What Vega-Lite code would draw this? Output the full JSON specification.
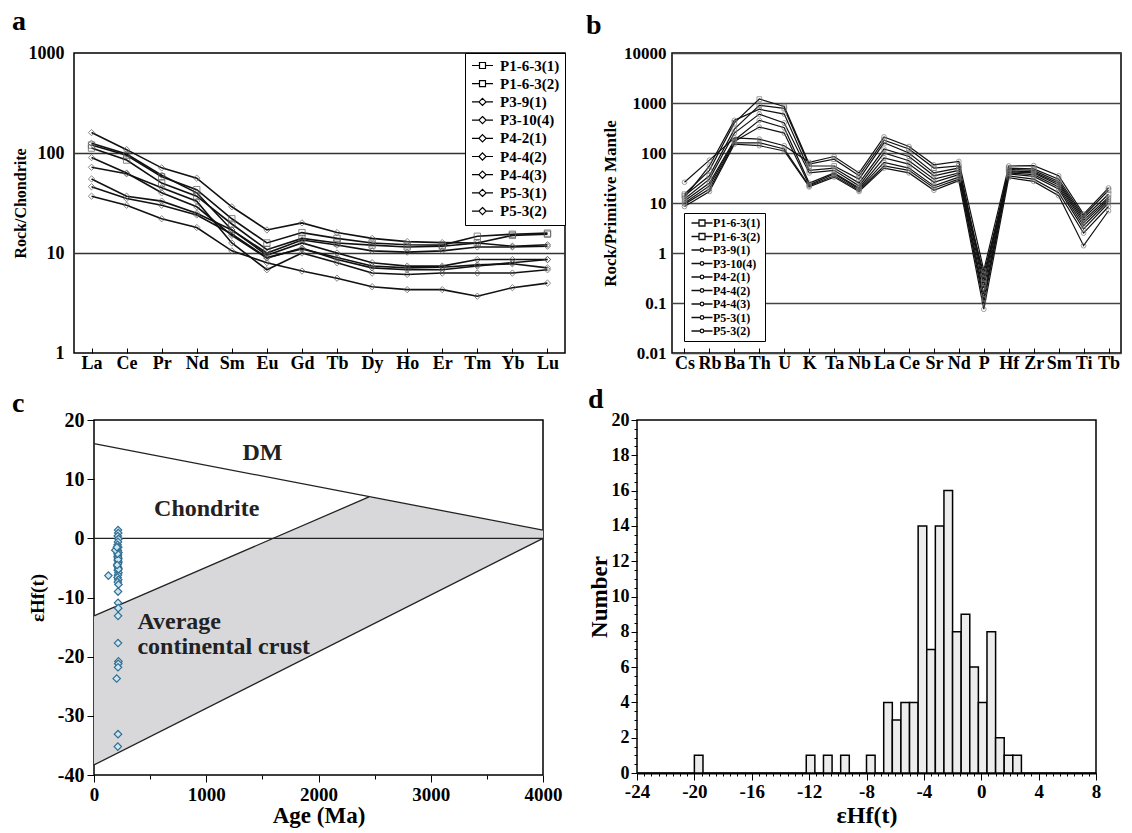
{
"$schema":"https://vega.github.io/schema/vega-lite/v6.json",
"background":"white",
"padding":{"left":10,"top":7,"right":2,"bottom":2},
"config":{
 "font":"Liberation Serif",
 "view":{"stroke":"black","strokeWidth":1.5},
 "axis":{"labelFont":"Liberation Serif","labelFontWeight":"bold","labelColor":"black","titleFont":"Liberation Serif","titleFontWeight":"bold","titleColor":"black","domain":false,"tickColor":"black","grid":false,"labelFlush":false,"labelOverlap":false},
 "title":{"font":"Liberation Serif","fontWeight":"bold","fontSize":28,"color":"black","anchor":"start","frame":"group","baseline":"alphabetic"},
 "legend":{"labelFont":"Liberation Serif","labelFontWeight":"bold","labelColor":"black"}
},
"datasets":{
"ree":[
{"s":"P1-6-3(1)","el":"La","v":120},{"s":"P1-6-3(1)","el":"Ce","v":95},{"s":"P1-6-3(1)","el":"Pr","v":58},{"s":"P1-6-3(1)","el":"Nd","v":43},{"s":"P1-6-3(1)","el":"Sm","v":22},{"s":"P1-6-3(1)","el":"Eu","v":12.6},{"s":"P1-6-3(1)","el":"Gd","v":16},{"s":"P1-6-3(1)","el":"Tb","v":14},{"s":"P1-6-3(1)","el":"Dy","v":12.6},{"s":"P1-6-3(1)","el":"Ho","v":12.1},{"s":"P1-6-3(1)","el":"Er","v":12},{"s":"P1-6-3(1)","el":"Tm","v":14.7},{"s":"P1-6-3(1)","el":"Yb","v":15.4},{"s":"P1-6-3(1)","el":"Lu","v":15.8},
{"s":"P1-6-3(2)","el":"La","v":112},{"s":"P1-6-3(2)","el":"Ce","v":85},{"s":"P1-6-3(2)","el":"Pr","v":50},{"s":"P1-6-3(2)","el":"Nd","v":37},{"s":"P1-6-3(2)","el":"Sm","v":19.5},{"s":"P1-6-3(2)","el":"Eu","v":10.8},{"s":"P1-6-3(2)","el":"Gd","v":14},{"s":"P1-6-3(2)","el":"Tb","v":12.6},{"s":"P1-6-3(2)","el":"Dy","v":12},{"s":"P1-6-3(2)","el":"Ho","v":11.5},{"s":"P1-6-3(2)","el":"Er","v":11.7},{"s":"P1-6-3(2)","el":"Tm","v":12.6},{"s":"P1-6-3(2)","el":"Yb","v":15},{"s":"P1-6-3(2)","el":"Lu","v":15.4},
{"s":"P3-9(1)","el":"La","v":160},{"s":"P3-9(1)","el":"Ce","v":108},{"s":"P3-9(1)","el":"Pr","v":71},{"s":"P3-9(1)","el":"Nd","v":56},{"s":"P3-9(1)","el":"Sm","v":29},{"s":"P3-9(1)","el":"Eu","v":17},{"s":"P3-9(1)","el":"Gd","v":20},{"s":"P3-9(1)","el":"Tb","v":16},{"s":"P3-9(1)","el":"Dy","v":14},{"s":"P3-9(1)","el":"Ho","v":13},{"s":"P3-9(1)","el":"Er","v":12.7},{"s":"P3-9(1)","el":"Tm","v":12.6},{"s":"P3-9(1)","el":"Yb","v":11.7},{"s":"P3-9(1)","el":"Lu","v":12.1},
{"s":"P3-10(4)","el":"La","v":125},{"s":"P3-10(4)","el":"Ce","v":98},{"s":"P3-10(4)","el":"Pr","v":60},{"s":"P3-10(4)","el":"Nd","v":40},{"s":"P3-10(4)","el":"Sm","v":17},{"s":"P3-10(4)","el":"Eu","v":9.5},{"s":"P3-10(4)","el":"Gd","v":12.6},{"s":"P3-10(4)","el":"Tb","v":10},{"s":"P3-10(4)","el":"Dy","v":8},{"s":"P3-10(4)","el":"Ho","v":7.4},{"s":"P3-10(4)","el":"Er","v":7.4},{"s":"P3-10(4)","el":"Tm","v":8.6},{"s":"P3-10(4)","el":"Yb","v":8.6},{"s":"P3-10(4)","el":"Lu","v":8.6},
{"s":"P4-2(1)","el":"La","v":90},{"s":"P4-2(1)","el":"Ce","v":63},{"s":"P4-2(1)","el":"Pr","v":40},{"s":"P4-2(1)","el":"Nd","v":29},{"s":"P4-2(1)","el":"Sm","v":15},{"s":"P4-2(1)","el":"Eu","v":8.9},{"s":"P4-2(1)","el":"Gd","v":11.2},{"s":"P4-2(1)","el":"Tb","v":8.6},{"s":"P4-2(1)","el":"Dy","v":7.1},{"s":"P4-2(1)","el":"Ho","v":6.8},{"s":"P4-2(1)","el":"Er","v":6.8},{"s":"P4-2(1)","el":"Tm","v":7.4},{"s":"P4-2(1)","el":"Yb","v":8},{"s":"P4-2(1)","el":"Lu","v":8.6},
{"s":"P4-4(2)","el":"La","v":72},{"s":"P4-4(2)","el":"Ce","v":62},{"s":"P4-4(2)","el":"Pr","v":45},{"s":"P4-4(2)","el":"Nd","v":33},{"s":"P4-4(2)","el":"Sm","v":12.6},{"s":"P4-4(2)","el":"Eu","v":6.8},{"s":"P4-4(2)","el":"Gd","v":10},{"s":"P4-4(2)","el":"Tb","v":8},{"s":"P4-4(2)","el":"Dy","v":6.3},{"s":"P4-4(2)","el":"Ho","v":6.1},{"s":"P4-4(2)","el":"Er","v":6.3},{"s":"P4-4(2)","el":"Tm","v":6.3},{"s":"P4-4(2)","el":"Yb","v":6.3},{"s":"P4-4(2)","el":"Lu","v":6.8},
{"s":"P4-4(3)","el":"La","v":55},{"s":"P4-4(3)","el":"Ce","v":37},{"s":"P4-4(3)","el":"Pr","v":33},{"s":"P4-4(3)","el":"Nd","v":25},{"s":"P4-4(3)","el":"Sm","v":17},{"s":"P4-4(3)","el":"Eu","v":10},{"s":"P4-4(3)","el":"Gd","v":13.5},{"s":"P4-4(3)","el":"Tb","v":12},{"s":"P4-4(3)","el":"Dy","v":10.5},{"s":"P4-4(3)","el":"Ho","v":10.2},{"s":"P4-4(3)","el":"Er","v":10.5},{"s":"P4-4(3)","el":"Tm","v":11.5},{"s":"P4-4(3)","el":"Yb","v":11.5},{"s":"P4-4(3)","el":"Lu","v":11.7},
{"s":"P5-3(1)","el":"La","v":46},{"s":"P5-3(1)","el":"Ce","v":35},{"s":"P5-3(1)","el":"Pr","v":30},{"s":"P5-3(1)","el":"Nd","v":24},{"s":"P5-3(1)","el":"Sm","v":15.5},{"s":"P5-3(1)","el":"Eu","v":9},{"s":"P5-3(1)","el":"Gd","v":11},{"s":"P5-3(1)","el":"Tb","v":9},{"s":"P5-3(1)","el":"Dy","v":7.4},{"s":"P5-3(1)","el":"Ho","v":7.1},{"s":"P5-3(1)","el":"Er","v":7.2},{"s":"P5-3(1)","el":"Tm","v":7.6},{"s":"P5-3(1)","el":"Yb","v":7.8},{"s":"P5-3(1)","el":"Lu","v":7.1},
{"s":"P5-3(2)","el":"La","v":37},{"s":"P5-3(2)","el":"Ce","v":30},{"s":"P5-3(2)","el":"Pr","v":22},{"s":"P5-3(2)","el":"Nd","v":18},{"s":"P5-3(2)","el":"Sm","v":10.5},{"s":"P5-3(2)","el":"Eu","v":8},{"s":"P5-3(2)","el":"Gd","v":6.6},{"s":"P5-3(2)","el":"Tb","v":5.6},{"s":"P5-3(2)","el":"Dy","v":4.6},{"s":"P5-3(2)","el":"Ho","v":4.3},{"s":"P5-3(2)","el":"Er","v":4.3},{"s":"P5-3(2)","el":"Tm","v":3.7},{"s":"P5-3(2)","el":"Yb","v":4.5},{"s":"P5-3(2)","el":"Lu","v":5}
],
"spider":[
{"s":"P1-6-3(1)","el":"Cs","v":15},{"s":"P1-6-3(1)","el":"Rb","v":45},{"s":"P1-6-3(1)","el":"Ba","v":400},{"s":"P1-6-3(1)","el":"Th","v":1200},{"s":"P1-6-3(1)","el":"U","v":850},{"s":"P1-6-3(1)","el":"K","v":60},{"s":"P1-6-3(1)","el":"Ta","v":75},{"s":"P1-6-3(1)","el":"Nb","v":35},{"s":"P1-6-3(1)","el":"La","v":180},{"s":"P1-6-3(1)","el":"Ce","v":120},{"s":"P1-6-3(1)","el":"Sr","v":50},{"s":"P1-6-3(1)","el":"Nd","v":55},{"s":"P1-6-3(1)","el":"P","v":0.3},{"s":"P1-6-3(1)","el":"Hf","v":50},{"s":"P1-6-3(1)","el":"Zr","v":48},{"s":"P1-6-3(1)","el":"Sm","v":30},{"s":"P1-6-3(1)","el":"Ti","v":5.5},{"s":"P1-6-3(1)","el":"Tb","v":18},
{"s":"P1-6-3(2)","el":"Cs","v":14},{"s":"P1-6-3(2)","el":"Rb","v":35},{"s":"P1-6-3(2)","el":"Ba","v":300},{"s":"P1-6-3(2)","el":"Th","v":900},{"s":"P1-6-3(2)","el":"U","v":780},{"s":"P1-6-3(2)","el":"K","v":55},{"s":"P1-6-3(2)","el":"Ta","v":55},{"s":"P1-6-3(2)","el":"Nb","v":30},{"s":"P1-6-3(2)","el":"La","v":160},{"s":"P1-6-3(2)","el":"Ce","v":100},{"s":"P1-6-3(2)","el":"Sr","v":40},{"s":"P1-6-3(2)","el":"Nd","v":50},{"s":"P1-6-3(2)","el":"P","v":0.25},{"s":"P1-6-3(2)","el":"Hf","v":47},{"s":"P1-6-3(2)","el":"Zr","v":45},{"s":"P1-6-3(2)","el":"Sm","v":27},{"s":"P1-6-3(2)","el":"Ti","v":5},{"s":"P1-6-3(2)","el":"Tb","v":15},
{"s":"P3-9(1)","el":"Cs","v":26},{"s":"P3-9(1)","el":"Rb","v":72},{"s":"P3-9(1)","el":"Ba","v":200},{"s":"P3-9(1)","el":"Th","v":190},{"s":"P3-9(1)","el":"U","v":140},{"s":"P3-9(1)","el":"K","v":65},{"s":"P3-9(1)","el":"Ta","v":85},{"s":"P3-9(1)","el":"Nb","v":40},{"s":"P3-9(1)","el":"La","v":210},{"s":"P3-9(1)","el":"Ce","v":135},{"s":"P3-9(1)","el":"Sr","v":58},{"s":"P3-9(1)","el":"Nd","v":68},{"s":"P3-9(1)","el":"P","v":0.45},{"s":"P3-9(1)","el":"Hf","v":55},{"s":"P3-9(1)","el":"Zr","v":56},{"s":"P3-9(1)","el":"Sm","v":35},{"s":"P3-9(1)","el":"Ti","v":6},{"s":"P3-9(1)","el":"Tb","v":20},
{"s":"P3-10(4)","el":"Cs","v":13},{"s":"P3-10(4)","el":"Rb","v":55},{"s":"P3-10(4)","el":"Ba","v":450},{"s":"P3-10(4)","el":"Th","v":750},{"s":"P3-10(4)","el":"U","v":600},{"s":"P3-10(4)","el":"K","v":45},{"s":"P3-10(4)","el":"Ta","v":50},{"s":"P3-10(4)","el":"Nb","v":25},{"s":"P3-10(4)","el":"La","v":120},{"s":"P3-10(4)","el":"Ce","v":85},{"s":"P3-10(4)","el":"Sr","v":35},{"s":"P3-10(4)","el":"Nd","v":45},{"s":"P3-10(4)","el":"P","v":0.2},{"s":"P3-10(4)","el":"Hf","v":44},{"s":"P3-10(4)","el":"Zr","v":42},{"s":"P3-10(4)","el":"Sm","v":25},{"s":"P3-10(4)","el":"Ti","v":4.5},{"s":"P3-10(4)","el":"Tb","v":13},
{"s":"P4-2(1)","el":"Cs","v":12},{"s":"P4-2(1)","el":"Rb","v":30},{"s":"P4-2(1)","el":"Ba","v":250},{"s":"P4-2(1)","el":"Th","v":600},{"s":"P4-2(1)","el":"U","v":400},{"s":"P4-2(1)","el":"K","v":40},{"s":"P4-2(1)","el":"Ta","v":45},{"s":"P4-2(1)","el":"Nb","v":22},{"s":"P4-2(1)","el":"La","v":100},{"s":"P4-2(1)","el":"Ce","v":70},{"s":"P4-2(1)","el":"Sr","v":30},{"s":"P4-2(1)","el":"Nd","v":40},{"s":"P4-2(1)","el":"P","v":0.15},{"s":"P4-2(1)","el":"Hf","v":42},{"s":"P4-2(1)","el":"Zr","v":40},{"s":"P4-2(1)","el":"Sm","v":23},{"s":"P4-2(1)","el":"Ti","v":4},{"s":"P4-2(1)","el":"Tb","v":12},
{"s":"P4-4(2)","el":"Cs","v":11},{"s":"P4-4(2)","el":"Rb","v":25},{"s":"P4-4(2)","el":"Ba","v":180},{"s":"P4-4(2)","el":"Th","v":450},{"s":"P4-4(2)","el":"U","v":320},{"s":"P4-4(2)","el":"K","v":25},{"s":"P4-4(2)","el":"Ta","v":40},{"s":"P4-4(2)","el":"Nb","v":20},{"s":"P4-4(2)","el":"La","v":80},{"s":"P4-4(2)","el":"Ce","v":60},{"s":"P4-4(2)","el":"Sr","v":26},{"s":"P4-4(2)","el":"Nd","v":37},{"s":"P4-4(2)","el":"P","v":0.12},{"s":"P4-4(2)","el":"Hf","v":40},{"s":"P4-4(2)","el":"Zr","v":37},{"s":"P4-4(2)","el":"Sm","v":21},{"s":"P4-4(2)","el":"Ti","v":3.5},{"s":"P4-4(2)","el":"Tb","v":11},
{"s":"P4-4(3)","el":"Cs","v":10},{"s":"P4-4(3)","el":"Rb","v":22},{"s":"P4-4(3)","el":"Ba","v":170},{"s":"P4-4(3)","el":"Th","v":330},{"s":"P4-4(3)","el":"U","v":250},{"s":"P4-4(3)","el":"K","v":23},{"s":"P4-4(3)","el":"Ta","v":38},{"s":"P4-4(3)","el":"Nb","v":19},{"s":"P4-4(3)","el":"La","v":65},{"s":"P4-4(3)","el":"Ce","v":50},{"s":"P4-4(3)","el":"Sr","v":22},{"s":"P4-4(3)","el":"Nd","v":33},{"s":"P4-4(3)","el":"P","v":0.1},{"s":"P4-4(3)","el":"Hf","v":38},{"s":"P4-4(3)","el":"Zr","v":34},{"s":"P4-4(3)","el":"Sm","v":19},{"s":"P4-4(3)","el":"Ti","v":3},{"s":"P4-4(3)","el":"Tb","v":10},
{"s":"P5-3(1)","el":"Cs","v":9.5},{"s":"P5-3(1)","el":"Rb","v":19},{"s":"P5-3(1)","el":"Ba","v":160},{"s":"P5-3(1)","el":"Th","v":160},{"s":"P5-3(1)","el":"U","v":120},{"s":"P5-3(1)","el":"K","v":22},{"s":"P5-3(1)","el":"Ta","v":35},{"s":"P5-3(1)","el":"Nb","v":18},{"s":"P5-3(1)","el":"La","v":55},{"s":"P5-3(1)","el":"Ce","v":45},{"s":"P5-3(1)","el":"Sr","v":20},{"s":"P5-3(1)","el":"Nd","v":30},{"s":"P5-3(1)","el":"P","v":0.38},{"s":"P5-3(1)","el":"Hf","v":35},{"s":"P5-3(1)","el":"Zr","v":30},{"s":"P5-3(1)","el":"Sm","v":16},{"s":"P5-3(1)","el":"Ti","v":2.5},{"s":"P5-3(1)","el":"Tb","v":8.5},
{"s":"P5-3(2)","el":"Cs","v":8.5},{"s":"P5-3(2)","el":"Rb","v":17},{"s":"P5-3(2)","el":"Ba","v":150},{"s":"P5-3(2)","el":"Th","v":140},{"s":"P5-3(2)","el":"U","v":110},{"s":"P5-3(2)","el":"K","v":21},{"s":"P5-3(2)","el":"Ta","v":33},{"s":"P5-3(2)","el":"Nb","v":17},{"s":"P5-3(2)","el":"La","v":50},{"s":"P5-3(2)","el":"Ce","v":40},{"s":"P5-3(2)","el":"Sr","v":18},{"s":"P5-3(2)","el":"Nd","v":28},{"s":"P5-3(2)","el":"P","v":0.075},{"s":"P5-3(2)","el":"Hf","v":32},{"s":"P5-3(2)","el":"Zr","v":27},{"s":"P5-3(2)","el":"Sm","v":14},{"s":"P5-3(2)","el":"Ti","v":1.4},{"s":"P5-3(2)","el":"Tb","v":7}
],
"crust":[{"age":0,"top":-13.1,"bot":-38.3},{"age":2450,"top":7.0,"bot":-14.85},{"age":4000,"top":1.4,"bot":0}],
"mlines":[{"id":"DM","age":0,"e":16},{"id":"DM","age":4000,"e":1.4},{"id":"CHUR","age":0,"e":0},{"id":"CHUR","age":4000,"e":0},{"id":"CU","age":0,"e":-13.1},{"id":"CU","age":2450,"e":7.0},{"id":"CL","age":0,"e":-38.3},{"id":"CL","age":4000,"e":0}],
"clabels":[{"t":"DM","age":1323,"e":14.4},{"t":"Chondrite","age":535,"e":5},{"t":"Average","age":387,"e":-14.1},{"t":"continental crust","age":387,"e":-18.3}],
"hf":[{"age":214,"e":1.4},{"age":216,"e":0.9},{"age":212,"e":0.4},{"age":218,"e":-0.1},{"age":214,"e":-0.6},{"age":210,"e":-1.1},{"age":216,"e":-1.5},{"age":212,"e":-2.0},{"age":218,"e":-2.4},{"age":214,"e":-2.8},{"age":210,"e":-3.1},{"age":216,"e":-3.4},{"age":212,"e":-3.7},{"age":218,"e":-4.0},{"age":214,"e":-4.3},{"age":210,"e":-4.7},{"age":216,"e":-5.0},{"age":212,"e":-5.4},{"age":218,"e":-5.8},{"age":214,"e":-6.2},{"age":210,"e":-6.6},{"age":216,"e":-7.0},{"age":212,"e":-7.4},{"age":218,"e":-7.8},{"age":214,"e":-3.2},{"age":214,"e":-3.6},{"age":210,"e":-2.6},{"age":218,"e":-5.2},{"age":214,"e":-9.0},{"age":214,"e":-10.9},{"age":216,"e":-11.8},{"age":214,"e":-13.1},{"age":214,"e":-17.7},{"age":218,"e":-20.8},{"age":216,"e":-21.2},{"age":214,"e":-21.8},{"age":202,"e":-23.7},{"age":214,"e":-33.1},{"age":212,"e":-35.2},{"age":128,"e":-6.3},{"age":190,"e":-2.0},{"age":204,"e":-1.5},{"age":206,"e":-4.5}],
"hist":[{"x0":-20.0,"x1":-19.4,"n":1},{"x0":-12.2,"x1":-11.6,"n":1},{"x0":-11.0,"x1":-10.4,"n":1},{"x0":-9.8,"x1":-9.2,"n":1},{"x0":-8.0,"x1":-7.4,"n":1},{"x0":-6.8,"x1":-6.2,"n":4},{"x0":-6.2,"x1":-5.6,"n":3},{"x0":-5.6,"x1":-5.0,"n":4},{"x0":-5.0,"x1":-4.4,"n":4},{"x0":-4.4,"x1":-3.8,"n":14},{"x0":-3.8,"x1":-3.2,"n":7},{"x0":-3.2,"x1":-2.6,"n":14},{"x0":-2.6,"x1":-2.0,"n":16},{"x0":-2.0,"x1":-1.4,"n":8},{"x0":-1.4,"x1":-0.8,"n":9},{"x0":-0.8,"x1":-0.2,"n":6},{"x0":-0.2,"x1":0.4,"n":4},{"x0":0.4,"x1":1.0,"n":8},{"x0":1.0,"x1":1.6,"n":2},{"x0":1.6,"x1":2.2,"n":1},{"x0":2.2,"x1":2.8,"n":1}]
},
"concat":[
{"width":1,"height":1,"view":{"stroke":null},"data":{"values":[]},"mark":"point"},
{
 "width":491,"height":300,
 "title":{"text":"a","dx":-62,"offset":8},
 "data":{"name":"ree"},
 "resolve":{"scale":{"shape":"independent"}},
 "layer":[
  {"mark":{"type":"line","color":"#111","strokeWidth":1.6},
   "encoding":{
    "x":{"field":"el","type":"ordinal","sort":["La","Ce","Pr","Nd","Sm","Eu","Gd","Tb","Dy","Ho","Er","Tm","Yb","Lu"],"axis":{"title":null,"labelAngle":0,"labelFontSize":18,"tickSize":-5,"labelPadding":6}},
    "y":{"field":"v","type":"quantitative","scale":{"type":"log","domain":[1,1000]},"axis":{"title":"Rock/Chondrite","titleFontSize":16,"titlePadding":0,"values":[1,10,100,1000],"format":".2~f","labelFontSize":18,"ticks":false,"labelPadding":10,"grid":true,"gridColor":"#333","gridWidth":1.3,"gridOpacity":{"condition":{"test":"datum.value == 10 || datum.value == 100","value":1},"value":0}}},
    "detail":{"field":"s"}}},
  {"mark":{"type":"point","filled":false,"stroke":"#555","strokeWidth":1,"size":40},
   "encoding":{
    "x":{"field":"el","type":"ordinal","sort":["La","Ce","Pr","Nd","Sm","Eu","Gd","Tb","Dy","Ho","Er","Tm","Yb","Lu"]},
    "y":{"field":"v","type":"quantitative","title":"Rock/Chondrite"},
    "shape":{"field":"s","type":"nominal","scale":{"domain":["P1-6-3(1)","P1-6-3(2)","P3-9(1)","P3-10(4)","P4-2(1)","P4-4(2)","P4-4(3)","P5-3(1)","P5-3(2)"],"range":["square","square","diamond","diamond","diamond","diamond","diamond","diamond","diamond"]},"legend":null}}},
  {"transform":[{"filter":"datum.el == 'La'"}],
   "mark":{"type":"point","filled":false,"stroke":"black","strokeWidth":1.2,"size":36,"opacity":0},
   "encoding":{
    "x":{"field":"el","type":"ordinal","sort":["La","Ce","Pr","Nd","Sm","Eu","Gd","Tb","Dy","Ho","Er","Tm","Yb","Lu"]},
    "y":{"field":"v","type":"quantitative","title":"Rock/Chondrite"},
    "shape":{"field":"s","type":"nominal","scale":{"domain":["P1-6-3(1)","P1-6-3(2)","P3-9(1)","P3-10(4)","P4-2(1)","P4-4(2)","P4-4(3)","P5-3(1)","P5-3(2)"],"range":["M-3.5,0H-1M1,0H3.5M-1,-1H1V1H-1Z","M-3.5,0H-1M1,0H3.5M-1,-1H1V1H-1Z","M-3.5,0H-1.2M1.2,0H3.5M0,-1.2L1.2,0L0,1.2L-1.2,0Z","M-3.5,0H-1.2M1.2,0H3.5M0,-1.2L1.2,0L0,1.2L-1.2,0Z","M-3.5,0H-1.2M1.2,0H3.5M0,-1.2L1.2,0L0,1.2L-1.2,0Z","M-3.5,0H-1.2M1.2,0H3.5M0,-1.2L1.2,0L0,1.2L-1.2,0Z","M-3.5,0H-1.2M1.2,0H3.5M0,-1.2L1.2,0L0,1.2L-1.2,0Z","M-3.5,0H-1.2M1.2,0H3.5M0,-1.2L1.2,0L0,1.2L-1.2,0Z","M-3.5,0H-1.2M1.2,0H3.5M0,-1.2L1.2,0L0,1.2L-1.2,0Z"]},
     "legend":{"title":null,"orient":"top-right","offset":0,"strokeColor":"black","fillColor":"white","padding":5,"labelFontSize":15,"rowPadding":2.2,"symbolSize":36,"symbolOpacity":1,"symbolStrokeColor":"black","symbolStrokeWidth":1.2,"symbolOffset":5,"labelOffset":10}}}}
 ]
},
{
 "width":449,"height":300,
 "title":{"text":"b","dx":-86,"offset":4},
 "data":{"name":"spider"},
 "resolve":{"scale":{"shape":"independent"},"axis":{"y":"independent"}},
 "layer":[
  {"mark":{"type":"line","color":"#111","strokeWidth":1.2},
   "encoding":{
    "x":{"field":"el","type":"ordinal","sort":["Cs","Rb","Ba","Th","U","K","Ta","Nb","La","Ce","Sr","Nd","P","Hf","Zr","Sm","Ti","Tb"],"axis":{"title":null,"labelAngle":0,"labelFontSize":18,"tickSize":-5,"labelPadding":6}},
    "y":{"field":"v","type":"quantitative","scale":{"type":"log","domain":[0.01,10000]},"axis":{"orient":"left","title":"Rock/Primitive Mantle","titleFontSize":17,"titlePadding":4,"values":[0.01,0.1,1,10,100,1000,10000],"format":".2~f","labelFontSize":17,"ticks":false,"labelPadding":6,"grid":true,"gridColor":"#444","gridWidth":1.3}},
    "detail":{"field":"s"}}},
  {"mark":{"type":"point","filled":false,"stroke":"#777","strokeWidth":1,"size":22},
   "encoding":{
    "x":{"field":"el","type":"ordinal","sort":["Cs","Rb","Ba","Th","U","K","Ta","Nb","La","Ce","Sr","Nd","P","Hf","Zr","Sm","Ti","Tb"]},
    "y":{"field":"v","type":"quantitative","axis":null},
    "shape":{"field":"s","type":"nominal","scale":{"domain":["P1-6-3(1)","P1-6-3(2)","P3-9(1)","P3-10(4)","P4-2(1)","P4-4(2)","P4-4(3)","P5-3(1)","P5-3(2)"],"range":["square","square","circle","circle","circle","circle","circle","circle","circle"]},"legend":null}}},
  {"transform":[{"filter":"datum.el == 'Cs'"}],
   "mark":{"type":"point","filled":false,"stroke":"#111","strokeWidth":1.3,"size":36,"opacity":0},
   "encoding":{
    "x":{"field":"el","type":"ordinal","sort":["Cs","Rb","Ba","Th","U","K","Ta","Nb","La","Ce","Sr","Nd","P","Hf","Zr","Sm","Ti","Tb"]},
    "y":{"field":"v","type":"quantitative","axis":{"orient":"left","offset":104,"labels":false,"ticks":false,"grid":false,"title":null,"domain":true,"domainOpacity":0}},
    "shape":{"field":"s","type":"nominal","scale":{"domain":["P1-6-3(1)","P1-6-3(2)","P3-9(1)","P3-10(4)","P4-2(1)","P4-4(2)","P4-4(3)","P5-3(1)","P5-3(2)"],"range":["M-3.5,0H-1M1,0H3.5M-1,-1H1V1H-1Z","M-3.5,0H-1M1,0H3.5M-1,-1H1V1H-1Z","M-3.5,0H-0.6M0.6,0H3.5M0.6,0A0.6,0.6,0,1,1,-0.6,0A0.6,0.6,0,1,1,0.6,0Z","M-3.5,0H-0.6M0.6,0H3.5M0.6,0A0.6,0.6,0,1,1,-0.6,0A0.6,0.6,0,1,1,0.6,0Z","M-3.5,0H-0.6M0.6,0H3.5M0.6,0A0.6,0.6,0,1,1,-0.6,0A0.6,0.6,0,1,1,0.6,0Z","M-3.5,0H-0.6M0.6,0H3.5M0.6,0A0.6,0.6,0,1,1,-0.6,0A0.6,0.6,0,1,1,0.6,0Z","M-3.5,0H-0.6M0.6,0H3.5M0.6,0A0.6,0.6,0,1,1,-0.6,0A0.6,0.6,0,1,1,0.6,0Z","M-3.5,0H-0.6M0.6,0H3.5M0.6,0A0.6,0.6,0,1,1,-0.6,0A0.6,0.6,0,1,1,0.6,0Z","M-3.5,0H-0.6M0.6,0H3.5M0.6,0A0.6,0.6,0,1,1,-0.6,0A0.6,0.6,0,1,1,0.6,0Z"]},
     "legend":{"title":null,"orient":"bottom-left","offset":12,"strokeColor":"black","fillColor":"white","padding":4,"labelFontSize":12,"rowPadding":1.5,"symbolSize":36,"symbolOpacity":1,"symbolStrokeColor":"#111","symbolStrokeWidth":1.3,"symbolOffset":8,"labelOffset":5}}}}
 ]
},
{"width":1,"height":1,"view":{"stroke":null},"data":{"values":[]},"mark":"point"},
{
 "width":449,"height":355,
 "title":{"text":"c","dx":-82,"offset":-8},
 "layer":[
  {"data":{"name":"crust"},"mark":{"type":"area","color":"#d8d8db","opacity":1},
   "encoding":{
    "x":{"field":"age","type":"quantitative","scale":{"domain":[0,4000],"nice":false},"axis":{"title":"Age (Ma)","titleFontSize":23,"titlePadding":0,"values":[0,250,500,750,1000,1250,1500,1750,2000,2250,2500,2750,3000,3250,3500,3750,4000],"labelExpr":"datum.value % 1000 === 0 ? '' + datum.value : ''","labelFontSize":19,"tickSize":{"condition":{"test":"datum.value % 1000 === 0","value":7},"value":4},"labelPadding":3}},
    "y":{"field":"top","type":"quantitative","scale":{"domain":[-40,20],"nice":false},"axis":{"title":"εHf(t)","titleFontSize":19,"titlePadding":10,"values":[-40,-35,-30,-25,-20,-15,-10,-5,0,5,10,15,20],"labelExpr":"datum.value % 10 === 0 ? '' + datum.value : ''","labelFontSize":20,"tickSize":{"condition":{"test":"datum.value % 10 === 0","value":7},"value":4},"labelPadding":3}},
    "y2":{"field":"bot"}}},
  {"data":{"name":"mlines"},"mark":{"type":"line","color":"#222","strokeWidth":1.3},
   "encoding":{"x":{"field":"age","type":"quantitative","title":"Age (Ma)"},"y":{"field":"e","type":"quantitative","title":"εHf(t)"},"detail":{"field":"id"}}},
  {"data":{"name":"hf"},"mark":{"type":"point","shape":"diamond","filled":true,"fill":"#cfe6ef","stroke":"#2e6d92","strokeWidth":1.2,"size":55,"opacity":1},
   "encoding":{"x":{"field":"age","type":"quantitative","title":"Age (Ma)"},"y":{"field":"e","type":"quantitative","title":"εHf(t)"}}},
  {"data":{"name":"clabels"},"mark":{"type":"text","align":"left","baseline":"middle","fontSize":24,"fontWeight":"bold","font":"Liberation Serif","color":"#222"},
   "encoding":{"x":{"field":"age","type":"quantitative","title":"Age (Ma)"},"y":{"field":"e","type":"quantitative","title":"εHf(t)"},"text":{"field":"t"}}}
 ]
},
{
 "width":459,"height":353,
 "title":{"text":"d","dx":-49,"offset":-3},
 "data":{"name":"hist"},
 "mark":{"type":"rect","fill":"#ececec","stroke":"black","strokeWidth":1.5},
 "encoding":{
  "x":{"field":"x0","type":"quantitative","scale":{"domain":[-24,8],"nice":false},"axis":{"title":"εHf(t)","titleFontSize":24,"titlePadding":2,"values":[-24,-23.5,-23,-22.5,-22,-21.5,-21,-20.5,-20,-19.5,-19,-18.5,-18,-17.5,-17,-16.5,-16,-15.5,-15,-14.5,-14,-13.5,-13,-12.5,-12,-11.5,-11,-10.5,-10,-9.5,-9,-8.5,-8,-7.5,-7,-6.5,-6,-5.5,-5,-4.5,-4,-3.5,-3,-2.5,-2,-1.5,-1,-0.5,0,0.5,1,1.5,2,2.5,3,3.5,4,4.5,5,5.5,6,6.5,7,7.5,8],"labelExpr":"datum.value % 4 === 0 ? '' + datum.value : ''","labelFontSize":19,"tickSize":{"condition":{"test":"datum.value % 4 === 0","value":7},"value":3},"labelPadding":2,"domain":true,"domainColor":"black","domainWidth":2}},
  "x2":{"field":"x1"},
  "y":{"field":"n","type":"quantitative","scale":{"domain":[0,20],"nice":false},"axis":{"title":"Number","titleFontSize":23,"titlePadding":0,"values":[0,0.5,1,1.5,2,2.5,3,3.5,4,4.5,5,5.5,6,6.5,7,7.5,8,8.5,9,9.5,10,10.5,11,11.5,12,12.5,13,13.5,14,14.5,15,15.5,16,16.5,17,17.5,18,18.5,19,19.5,20],"labelExpr":"datum.value % 2 === 0 ? '' + datum.value : ''","labelFontSize":18,"tickSize":{"condition":{"test":"datum.value % 2 === 0","value":6},"value":3},"labelPadding":2}},
  "y2":{"datum":0}
 }
}
],
"columns":3,
"spacing":{"row":12,"column":0},
"align":{"row":"each","column":"none"}
}
